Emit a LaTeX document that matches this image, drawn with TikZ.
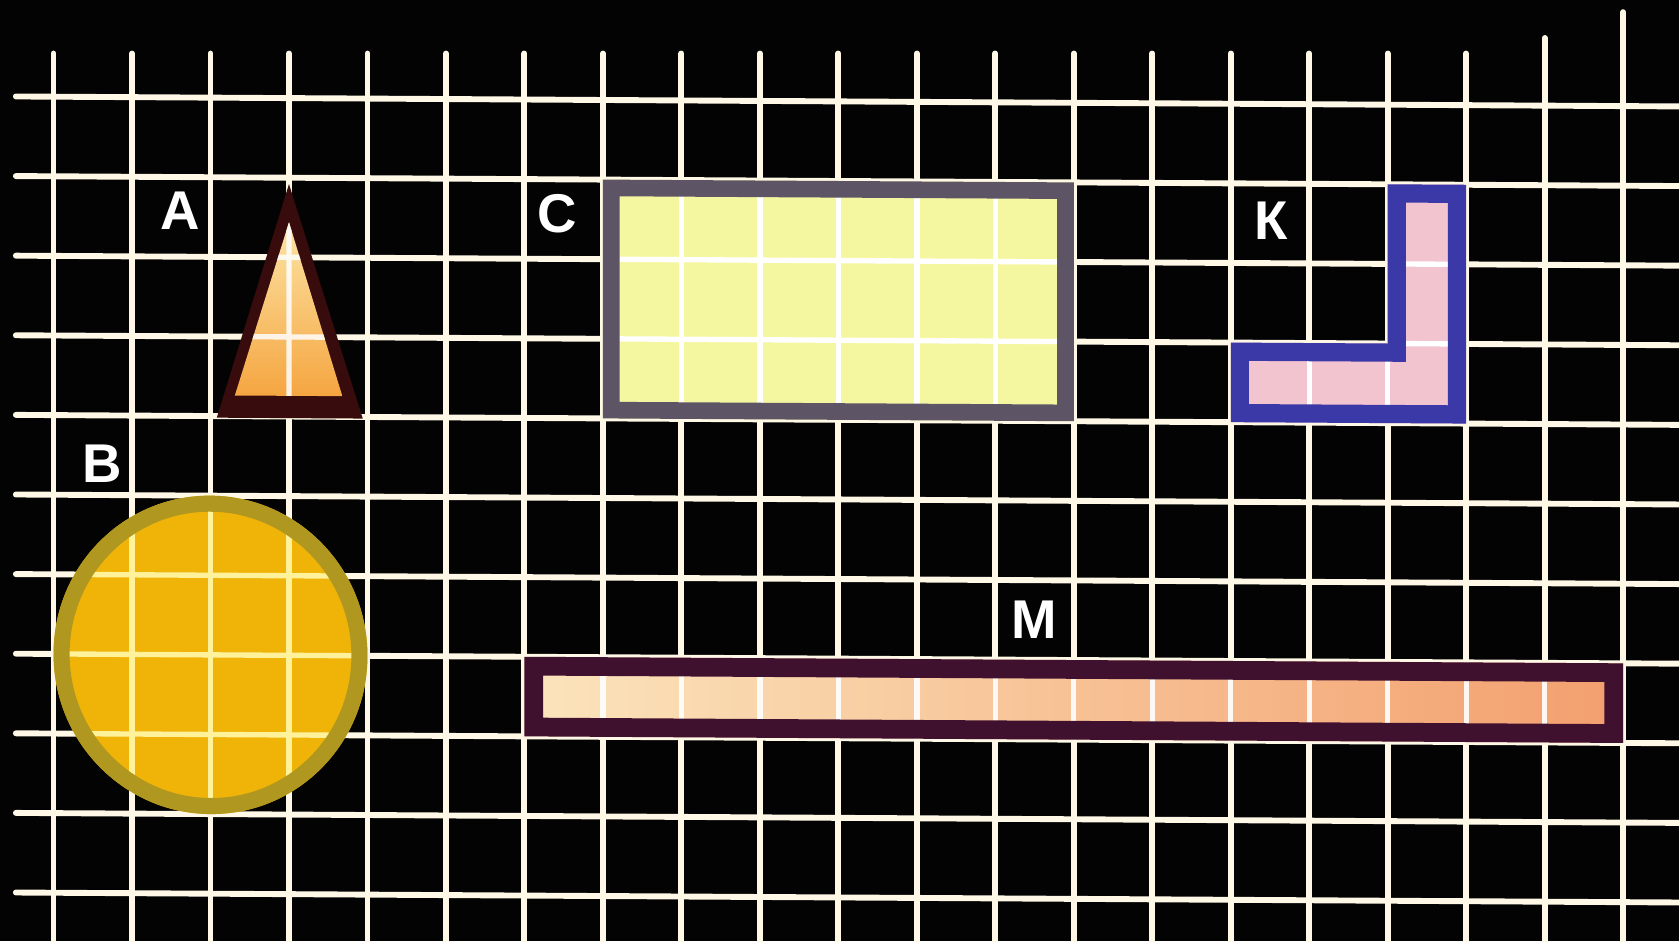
\documentclass[tikz,border=0pt]{standalone}
\usepackage{fontspec}
\setmainfont{Liberation Sans}
\definecolor{bg}{HTML}{040303}
\definecolor{gridc}{HTML}{FFF8E6}
\definecolor{triTop}{HTML}{FCE6A8}
\definecolor{triBot}{HTML}{F5A540}
\definecolor{triEdge}{HTML}{380B0D}
\definecolor{circFill}{HTML}{F0B408}
\definecolor{circRing}{HTML}{B09720}
\definecolor{circLine}{HTML}{FFF29A}
\definecolor{cFill}{HTML}{F5F6A0}
\definecolor{cEdge}{HTML}{5D5566}
\definecolor{kFill}{HTML}{F2C4D0}
\definecolor{kEdge}{HTML}{3B38A8}
\definecolor{mLeft}{HTML}{FBE4BC}
\definecolor{mRight}{HTML}{F39F6E}
\definecolor{mEdge}{HTML}{40102F}
\tikzset{
  gridline/.style={draw=gridc, line width=0.055cm, line cap=round},
  innerline/.style={line width=0.05cm},
  lbl/.style={text=white, inner sep=0pt, font=\fontsize{14.5}{17}\selectfont\bfseries},
  gridunits/.style={shift={(50,90)}, x=0.7325cm, y=-0.743cm},
}
\begin{document}
\begin{tikzpicture}[x=0.01cm,y=-0.01cm]
\fill[bg] (0,0) rectangle (1568,879);
\useasboundingbox (0,0) rectangle (1568,879);
\begin{scope}[yslant=-0.006, gridunits]
  % grid
  \foreach \k in {0,...,18}
    \draw[gridline] (\k,{(-40-0.006*(50+73.25*\k))/74.3}) -- (\k,10.8);
  \draw[gridline] (19,-0.85) -- (19,10.8);
  \draw[gridline] (20,-1.18) -- (20,10.8);
  \foreach \j in {0,...,10}
    \draw[gridline] (-0.48,\j) -- (20.9,\j);

  % Triangle A: dark outer triangle, lighter inner triangle
  \fill[triEdge, line join=round] (2.08,4.02) -- (3,1.08) -- (3.94,4.02) -- cycle;
  \begin{scope}
    \clip (2.31,3.74) -- (3,1.56) -- (3.68,3.74) -- cycle;
    \shade[top color=triTop, bottom color=triBot] (2.3,1.5) rectangle (3.7,3.75);
    \draw[innerline, draw=white, opacity=0.85] (3,1) -- (3,4) (2,2) -- (4,2) (2,3) -- (4,3);
  \end{scope}

  % Circle B
  \fill[circFill] (2,7) circle [radius=2];
  \begin{scope}
    \clip (2,7) circle [radius=1.82];
    \foreach \k in {1,2,3} \draw[innerline, draw=circLine] (\k,4.8) -- (\k,9.2);
    \foreach \j in {6,7,8} \draw[innerline, draw=circLine] (-0.2,\j) -- (4.2,\j);
  \end{scope}
  \begin{scope}
    \clip (2,7) circle [radius=2];
    \draw[line width=0.30cm, draw=circRing] (2,7) circle [radius=2];
  \end{scope}

  % Rectangle C
  \begin{scope}
    \clip (7,1) rectangle (13,4);
    \fill[cFill] (7,1) rectangle (13,4);
    \foreach \k in {8,...,12} \draw[innerline, draw=white] (\k,1) -- (\k,4);
    \foreach \j in {2,3} \draw[innerline, draw=white] (7,\j) -- (13,\j);
    \draw[line width=0.31cm, draw=cEdge] (7,1) rectangle (13,4);
  \end{scope}

  % L-shape K
  \begin{scope}
    \clip (17,1) -- (18,1) -- (18,4) -- (15,4) -- (15,3) -- (17,3) -- cycle;
    \fill[kFill] (15,1) rectangle (18,4);
    \foreach \k in {16,17} \draw[innerline, draw=white] (\k,3) -- (\k,4);
    \foreach \j in {2,3} \draw[innerline, draw=white] (17,\j) -- (18,\j);
    \draw[line width=0.34cm, draw=kEdge, line join=miter] (17,1) -- (18,1) -- (18,4) -- (15,4) -- (15,3) -- (17,3) -- cycle;
  \end{scope}

  % Strip M
  \begin{scope}
    \clip (6,7) rectangle (20,8);
    \shade[left color=mLeft, right color=mRight] (6,7) rectangle (20,8);
    \foreach \k in {7,...,19} \draw[innerline, draw=white, opacity=0.9] (\k,7) -- (\k,8);
    \draw[line width=0.35cm, draw=mEdge] (6,7) rectangle (20,8);
  \end{scope}
\end{scope}

% labels
\begin{scope}[gridunits]
  \node[lbl] (labA) at (1.61,1.44) {А};
  \node[lbl] (labC) at (6.42,1.48) {С};
  \node[lbl] (labK) at (15.52,1.56) {К};
  \node[lbl] (labB) at (0.614,4.62) {В};
  \node[lbl] (labM) at (12.49,6.57) {М};
\end{scope}
\end{tikzpicture}
\end{document}
